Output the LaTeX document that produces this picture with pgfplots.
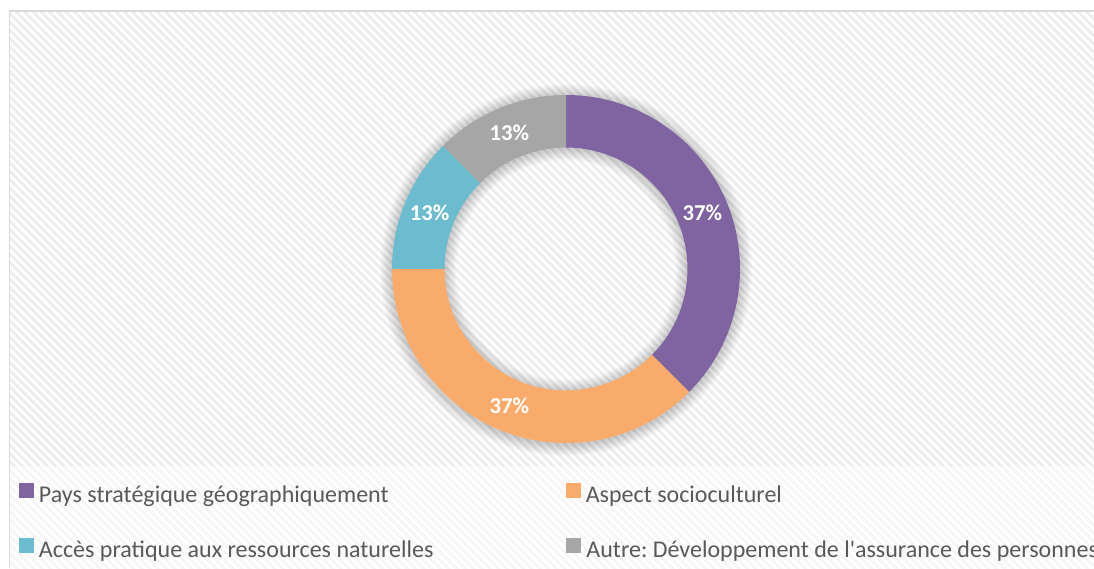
\documentclass[border=0pt]{standalone}
\usepackage{fontspec}
\setmainfont{Carlito}[Ligatures=TeXOff]
\usepackage{pgfplots}
\usepackage{pgfplotstable}
\pgfplotsset{compat=1.18}
\usetikzlibrary{patterns.meta,calc}
\definecolor{slicepurple}{HTML}{8064A2}
\definecolor{sliceorange}{HTML}{F9AB6B}
\definecolor{sliceteal}{HTML}{6CBCD0}
\definecolor{slicegray}{HTML}{A6A6A6}
\definecolor{legtext}{HTML}{595959}
\definecolor{framegray}{HTML}{D9D9D9}
\definecolor{hatchA}{HTML}{EDEDED}
\definecolor{hatchB}{HTML}{F6F6F6}

% share of each slice (percent), printed label, colour
\pgfplotstableread{
value label color
37.5 37 slicepurple
37.5 37 sliceorange
12.5 13 sliceteal
12.5 13 slicegray
}\slices

\begin{document}
\frenchspacing
\begin{tikzpicture}
\begin{axis}[
  name=ax, at={(0,0)}, anchor=south west,
  width=820.5pt, height=426pt, scale only axis,
  xmin=0, xmax=1094, ymin=0, ymax=568,
  axis lines=none, clip=true,
  legend columns=2, legend cell align=left,
  legend style={at={(axis cs:15,88)}, anchor=north west, draw=none, fill=none,
    font=\fontsize{18}{21}\selectfont, text=legtext,
    nodes={inner sep=0pt, text height=13pt, text depth=4.5pt},
    row sep=22pt, column sep=0pt},
  legend image code/.code={\fill[#1] (0pt,-0.3pt) rectangle (10.3pt,10.3pt); \path (14.4pt,0pt);},
]
% background
\fill[white] (axis cs:0,0) rectangle (axis cs:1094,568);
\fill[pattern={Lines[angle=-45, distance=4.4pt, line width=2.1pt]}, pattern color=hatchA]
  (axis cs:10,102) rectangle (axis cs:1094,556);
\fill[pattern={Lines[angle=-45, distance=4.4pt, line width=2.1pt]}, pattern color=hatchB]
  (axis cs:10,0) rectangle (axis cs:1094,102);
\draw[framegray, line width=1.4pt] (axis cs:9.5,0) -- (axis cs:9.5,557) -- (axis cs:1094,557);

% shadow
\pgfplotsinvokeforeach{1,...,12}{
  \fill[black, opacity=0.016, even odd rule]
    (axis cs:566,298) circle[radius={130.5pt+#1*0.75pt}]
    (axis cs:566,298) circle[radius={91.1pt-#1*0.75pt}];
}

% slices
\def\angstart{90}
\pgfplotsforeachungrouped \i in {0,...,3}{
  \pgfplotstablegetelem{\i}{value}\of\slices \let\v=\pgfplotsretval
  \pgfplotstablegetelem{\i}{color}\of\slices \let\c=\pgfplotsretval
  \pgfplotstablegetelem{\i}{label}\of\slices \let\l=\pgfplotsretval
  \pgfmathsetmacro\angend{\angstart-3.6*\v}
  \pgfmathsetmacro\angmid{(\angstart+\angend)/2}
  \edef\temp{%
    \noexpand\fill[\c] ($(axis cs:566,299)+(\angstart:130.5pt)$)
      arc[start angle=\angstart, end angle=\angend, radius=130.5pt]
      -- ($(axis cs:566,299)+(\angend:91.1pt)$)
      arc[start angle=\angend, end angle=\angstart, radius=91.1pt] -- cycle;
    \noexpand\node[text=white, font=\noexpand\fontsize{17}{20}\noexpand\selectfont\noexpand\bfseries]
      at ($(axis cs:566,299)+(\angmid:110.8pt)$) {\l\noexpand\%};
  }%
  \temp
  \global\let\angstart\angend
}

\addlegendimage{slicepurple}
\addlegendentry{\makebox[395.3pt][l]{Pays stratégique géographiquement}}
\addlegendimage{sliceorange}
\addlegendentry{Aspect socioculturel}
\addlegendimage{sliceteal}
\addlegendentry{\makebox[395.3pt][l]{Accès pratique aux ressources naturelles}}
\addlegendimage{slicegray}
\addlegendentry{\makebox[0pt][l]{Autre: Développement de l'assurance des personnes}}
\end{axis}
\end{tikzpicture}
\end{document}
